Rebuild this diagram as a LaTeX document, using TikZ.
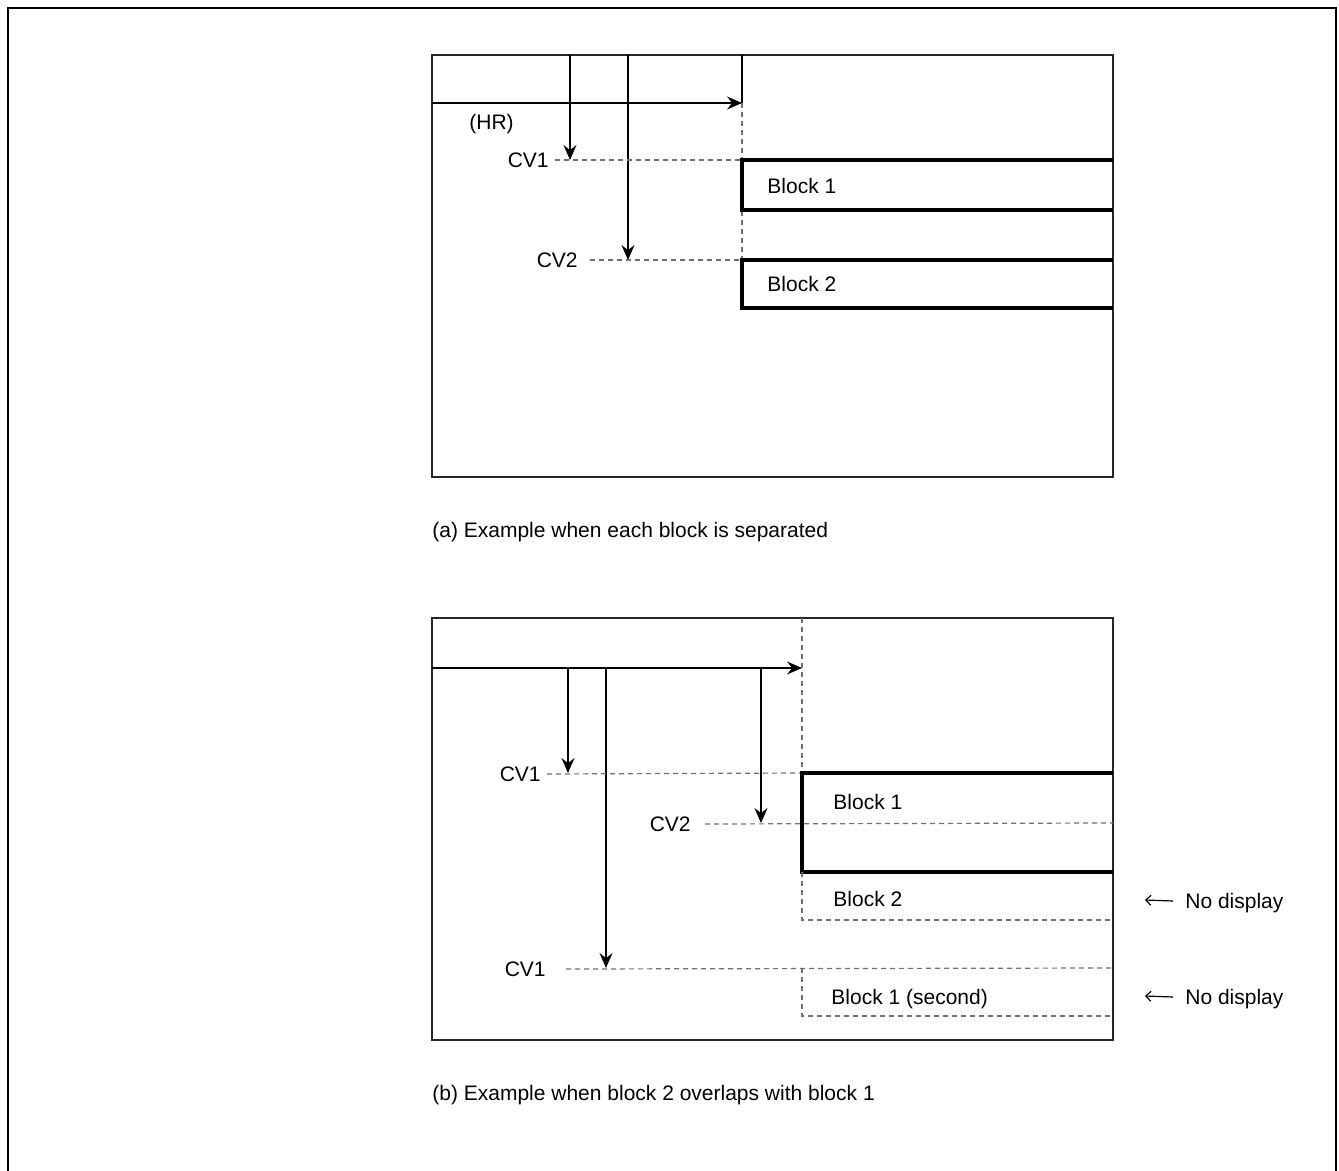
\documentclass[tikz,border=0pt]{standalone}
\usepackage{fontspec}
\setmainfont{Liberation Sans}
\definecolor{bloqueNegro}{HTML}{000000}
\definecolor{bloqueGris}{HTML}{707070}
\definecolor{bloqueMarco}{HTML}{262626}
\usetikzlibrary{
	arrows.meta,
	positioning,
	calc
}
\tikzset{
	marco/.style={
		draw=bloqueNegro,
		line width=1.4pt
	},
	panel/.style={
		draw=bloqueMarco,
		line width=0.7pt
	},
	bloque/.style={
		draw=bloqueNegro,
		line width=1.6pt
	},
	guia/.style={
		draw=bloqueGris,
		line width=0.6pt,
		dash pattern=on 2.5pt off 2pt
	},
	flecha/.style={
		-{Stealth[length=7.5pt,width=6.5pt,inset=2.6pt]},
		line width=0.7pt,
		bloqueNegro
	},
	flechaFina/.style={
		-{Straight Barb[length=2.5pt,width=5pt]},
		line width=0.6pt,
		bloqueNegro
	},
	linea/.style={
		line width=0.7pt,
		bloqueNegro
	},
	rotulo/.style={
		anchor=west,
		inner sep=0pt,
		text height=7.5pt,
		text depth=0pt,
		font=\fontsize{10.5}{12}\selectfont
	}
}

\begin{document}
\begin{tikzpicture}[x=0.5pt,y=-0.5pt]
	\useasboundingbox (0,0) rectangle (1339,1171);
	\draw[marco] (8,1175) -- (8,8) -- (1336,8) -- (1336,1175);

	% (a) bloques separados
	\draw[panel] (432,55) rectangle (1113,477);
	\coordinate (aIni) at (432,103);
	\coordinate (aFin) at (742,103);
	\coordinate (aTope) at (742,55);
	\coordinate (aCv1) at (570,160);
	\coordinate (aCv2) at (628,260);
	\coordinate (aB1) at (742,160);
	\coordinate (aB2) at (742,260);
	\draw[flecha] (aIni) -- (aFin);
	\draw[linea] (aTope) -- (aFin);
	\draw[guia] (aFin) -- (aB2);
	\draw[flecha] (aCv1 |- aTope) -- (aCv1);
	\draw[flecha] (aCv2 |- aTope) -- (aCv2);
	\node[rotulo] (hr) at (469,122) {(HR)};
	\node[rotulo, anchor=east] (cvUno) at (549,160) {CV1};
	\node[rotulo, anchor=east] (cvDos) at (578,260) {CV2};
	\draw[guia] ([xshift=3pt]cvUno.east) -- (aB1);
	\draw[guia] ([xshift=6pt]cvDos.east) -- (aB2);
	\draw[bloque] (1113,160) -- (aB1) -- (742,210) -- (1113,210);
	\draw[bloque] (1113,260) -- (aB2) -- (742,308) -- (1113,308);
	\node[rotulo] (bloqueUno) at (767,186) {Block 1};
	\node[rotulo] (bloqueDos) at (767,284) {Block 2};
	\node[rotulo] (pieA) at (432,530) {(a) Example when each block is separated};

	% (b) el bloque 2 se solapa con el bloque 1
	\draw[panel] (432,618) rectangle (1113,1040);
	\coordinate (bIni) at (432,668);
	\coordinate (bFin) at (802,668);
	\coordinate (bTope) at (802,618);
	\coordinate (bCv1) at (568,773);
	\coordinate (bCv2) at (761,823);
	\coordinate (bCv3) at (606,968);
	\coordinate (bB1) at (802,773);
	\draw[flecha] (bIni) -- (bFin);
	\draw[guia] (bTope) -- (bB1);
	\draw[flecha] (bCv1 |- bIni) -- (bCv1);
	\draw[flecha] (bCv2 |- bIni) -- (bCv2);
	\draw[flecha] (bCv3 |- bIni) -- (bCv3);
	\node[rotulo, anchor=east] (cvUnoB) at (541,774) {CV1};
	\node[rotulo, anchor=east] (cvDosB) at (691,824) {CV2};
	\node[rotulo, anchor=east] (cvTresB) at (546,969) {CV1};
	\draw[guia] ([xshift=3pt]cvUnoB.east) -- (bB1);
	\draw[guia] ([xshift=7pt]cvDosB.east) -- (1113,823);
	\draw[guia] ([xshift=10pt]cvTresB.east) -- (1113,968);
	\draw[bloque] (1113,773) -- (bB1) -- (802,872) -- (1113,872);
	\draw[guia] (802,872) -- (802,920) -- (1113,920);
	\draw[guia] (802,968) -- (802,1016) -- (1113,1016);
	\node[rotulo] (bloqueUnoB) at (833,802) {Block 1};
	\node[rotulo] (bloqueDosB) at (833,899) {Block 2};
	\node[rotulo] (bloqueUnoBis) at (831,997) {Block 1 (second)};
	\node[rotulo] (nota1) at (1185,901) {No display};
	\node[rotulo] (nota2) at (1185,997) {No display};
	\coordinate (sinVer1) at (1145,900);
	\coordinate (sinVer2) at (1145,996);
	\draw[flechaFina] ([xshift=-6pt]nota1.west) -- (sinVer1);
	\draw[flechaFina] ([xshift=-6pt]nota2.west) -- (sinVer2);
	\node[rotulo] (pieB) at (432,1093) {(b) Example when block 2 overlaps with block 1};
\end{tikzpicture}
\end{document}
